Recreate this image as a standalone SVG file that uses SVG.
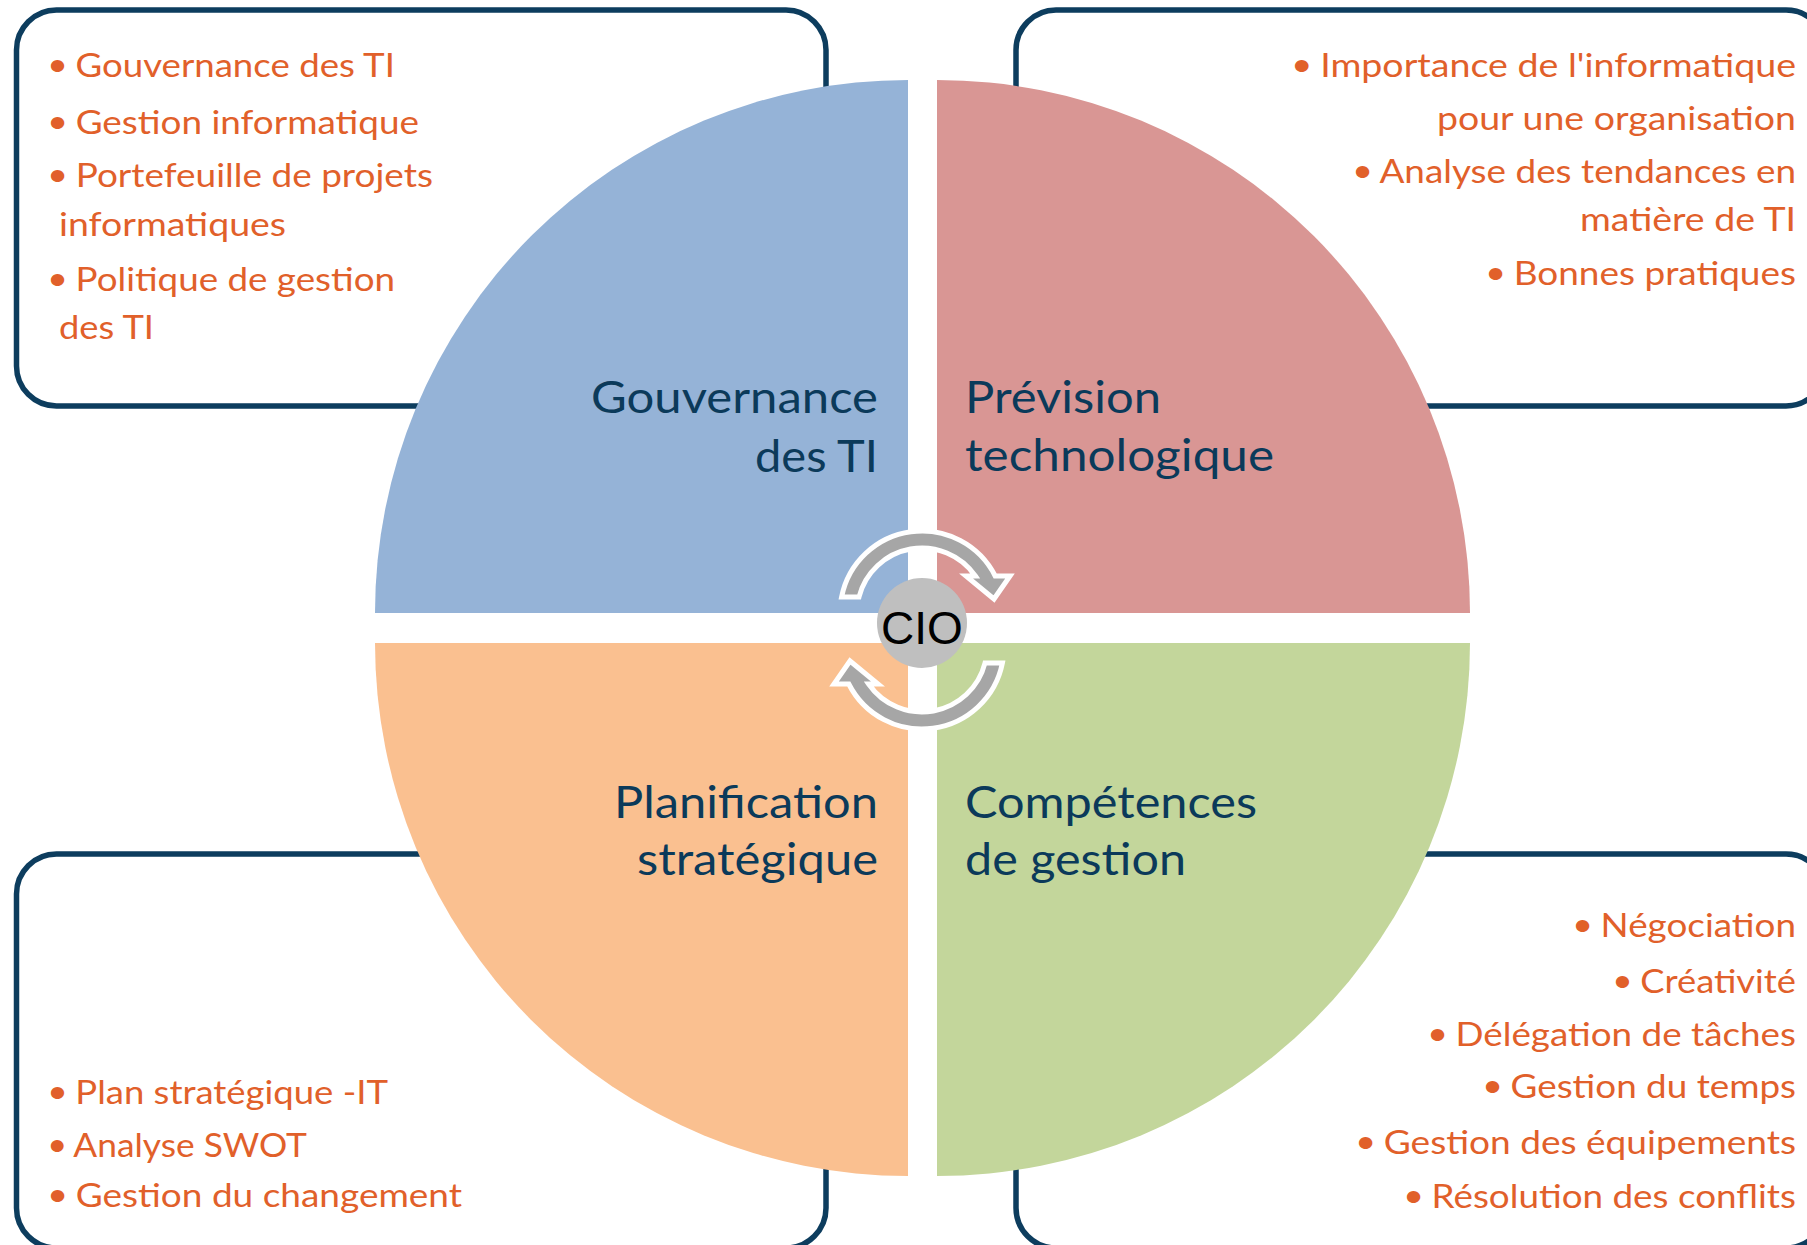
<svg xmlns="http://www.w3.org/2000/svg" width="1807" height="1245" viewBox="0 0 1807 1245">
<style>
.box{fill:#FFFFFF;stroke:#0D3D5E;stroke-width:5.5}
.item{font-family:Lato,"Open Sans","Liberation Sans",sans-serif;font-size:33px;fill:#E1602A}
.b{font-family:"Liberation Sans",Arial,sans-serif;font-size:44px}
.end{text-anchor:end}
.lbl{font-family:Lato,"Open Sans","Liberation Sans",sans-serif;font-size:44px;fill:#0B3A5A}
.arrow{fill:#A6A6A6;stroke:#FFFFFF;stroke-width:5;stroke-linejoin:miter}
.cio{font-family:"Liberation Sans",Arial,sans-serif;font-size:46px;fill:#000000;text-anchor:middle}
</style>
<rect x="0" y="0" width="1807" height="1245" fill="#FFFFFF"/>

<g id="box-top-left">
<rect class="box" x="16.5" y="10" width="809.5" height="396" rx="40"/>
<text class="item" x="49" y="77" textLength="346" lengthAdjust="spacingAndGlyphs"><tspan class="b" dy="4">•</tspan><tspan dy="-4"> Gouvernance des TI</tspan></text>
<text class="item" x="49" y="134" textLength="370" lengthAdjust="spacingAndGlyphs"><tspan class="b" dy="4">•</tspan><tspan dy="-4"> Gestion informatique</tspan></text>
<text class="item" x="49" y="187" textLength="384" lengthAdjust="spacingAndGlyphs"><tspan class="b" dy="4">•</tspan><tspan dy="-4"> Portefeuille de projets</tspan></text>
<text class="item" x="59" y="236" textLength="227" lengthAdjust="spacingAndGlyphs">informatiques</text>
<text class="item" x="49" y="290.5" textLength="346" lengthAdjust="spacingAndGlyphs"><tspan class="b" dy="4">•</tspan><tspan dy="-4"> Politique de gestion</tspan></text>
<text class="item" x="59" y="339" textLength="95" lengthAdjust="spacingAndGlyphs">des TI</text>
</g>

<g id="box-top-right">
<rect class="box" x="1016" y="10" width="810" height="396" rx="40"/>
<text class="item end" x="1796" y="77" textLength="503" lengthAdjust="spacingAndGlyphs"><tspan class="b" dy="4">•</tspan><tspan dy="-4"> Importance de l'informatique</tspan></text>
<text class="item end" x="1796" y="129.5" textLength="359" lengthAdjust="spacingAndGlyphs">pour une organisation</text>
<text class="item end" x="1796" y="182.5" textLength="442" lengthAdjust="spacingAndGlyphs"><tspan class="b" dy="4">•</tspan><tspan dy="-4"> Analyse des tendances en</tspan></text>
<text class="item end" x="1796" y="230.5" textLength="216" lengthAdjust="spacingAndGlyphs">matière de TI</text>
<text class="item end" x="1796" y="284.5" textLength="309" lengthAdjust="spacingAndGlyphs"><tspan class="b" dy="4">•</tspan><tspan dy="-4"> Bonnes pratiques</tspan></text>
</g>

<g id="box-bottom-left">
<rect class="box" x="16.5" y="854" width="809.5" height="394" rx="40"/>
<text class="item" x="49" y="1104" textLength="339" lengthAdjust="spacingAndGlyphs"><tspan class="b" dy="4">•</tspan><tspan dy="-4"> Plan stratégique -IT</tspan></text>
<text class="item" x="49" y="1157" textLength="258" lengthAdjust="spacingAndGlyphs"><tspan class="b" dy="4">•</tspan><tspan dy="-4"> Analyse SWOT</tspan></text>
<text class="item" x="49" y="1207" textLength="413" lengthAdjust="spacingAndGlyphs"><tspan class="b" dy="4">•</tspan><tspan dy="-4"> Gestion du changement</tspan></text>
</g>

<g id="box-bottom-right">
<rect class="box" x="1016" y="854" width="810" height="394" rx="40"/>
<text class="item end" x="1796" y="937" textLength="222" lengthAdjust="spacingAndGlyphs"><tspan class="b" dy="4">•</tspan><tspan dy="-4"> Négociation</tspan></text>
<text class="item end" x="1796" y="992.5" textLength="182" lengthAdjust="spacingAndGlyphs"><tspan class="b" dy="4">•</tspan><tspan dy="-4"> Créativité</tspan></text>
<text class="item end" x="1796" y="1045.5" textLength="367" lengthAdjust="spacingAndGlyphs"><tspan class="b" dy="4">•</tspan><tspan dy="-4"> Délégation de tâches</tspan></text>
<text class="item end" x="1796" y="1098" textLength="312" lengthAdjust="spacingAndGlyphs"><tspan class="b" dy="4">•</tspan><tspan dy="-4"> Gestion du temps</tspan></text>
<text class="item end" x="1796" y="1154" textLength="439" lengthAdjust="spacingAndGlyphs"><tspan class="b" dy="4">•</tspan><tspan dy="-4"> Gestion des équipements</tspan></text>
<text class="item end" x="1796" y="1208" textLength="391" lengthAdjust="spacingAndGlyphs"><tspan class="b" dy="4">•</tspan><tspan dy="-4"> Résolution des conflits</tspan></text>
</g>

<g id="quadrant-gouvernance">
<path d="M908,613 L908,80 A533,533 0 0 0 375,613 Z" fill="#95B3D7"/>
<text class="lbl end" x="878" y="413" textLength="287" lengthAdjust="spacingAndGlyphs">Gouvernance</text>
<text class="lbl end" x="878" y="472" textLength="123" lengthAdjust="spacingAndGlyphs">des TI</text>
</g>

<g id="quadrant-prevision">
<path d="M937,613 L937,80 A533,533 0 0 1 1470,613 Z" fill="#D99694"/>
<text class="lbl" x="965" y="413" textLength="196" lengthAdjust="spacingAndGlyphs">Prévision</text>
<text class="lbl" x="965" y="471" textLength="309" lengthAdjust="spacingAndGlyphs">technologique</text>
</g>

<g id="quadrant-planification">
<path d="M908,643 L375,643 A533,533 0 0 0 908,1176 Z" fill="#FAC090"/>
<text class="lbl end" x="878" y="818" textLength="264" lengthAdjust="spacingAndGlyphs">Planification</text>
<text class="lbl end" x="878" y="875" textLength="241" lengthAdjust="spacingAndGlyphs">stratégique</text>
</g>

<g id="quadrant-competences">
<path d="M937,643 L1470,643 A533,533 0 0 1 937,1176 Z" fill="#C3D69B"/>
<text class="lbl" x="965" y="818" textLength="292" lengthAdjust="spacingAndGlyphs">Compétences</text>
<text class="lbl" x="965" y="875" textLength="221" lengthAdjust="spacingAndGlyphs">de gestion</text>
</g>

<g id="connectors">
<path id="arrow-top" class="arrow" d="M841.6,597 A82,82 0 0 1 995.2,576 L1010,576 L994,599 L966,576 L975.4,576 A65,65 0 0 0 859,597 Z"/>
<path id="arrow-bottom" class="arrow" transform="rotate(180 922 630)" d="M841.6,597 A82,82 0 0 1 995.2,576 L1010,576 L994,599 L966,576 L975.4,576 A65,65 0 0 0 859,597 Z"/>
</g>

<g id="node-cio">
<circle cx="922" cy="623" r="45" fill="#BFBFBF"/>
<text class="cio" x="922" y="644">CIO</text>
</g>
</svg>
